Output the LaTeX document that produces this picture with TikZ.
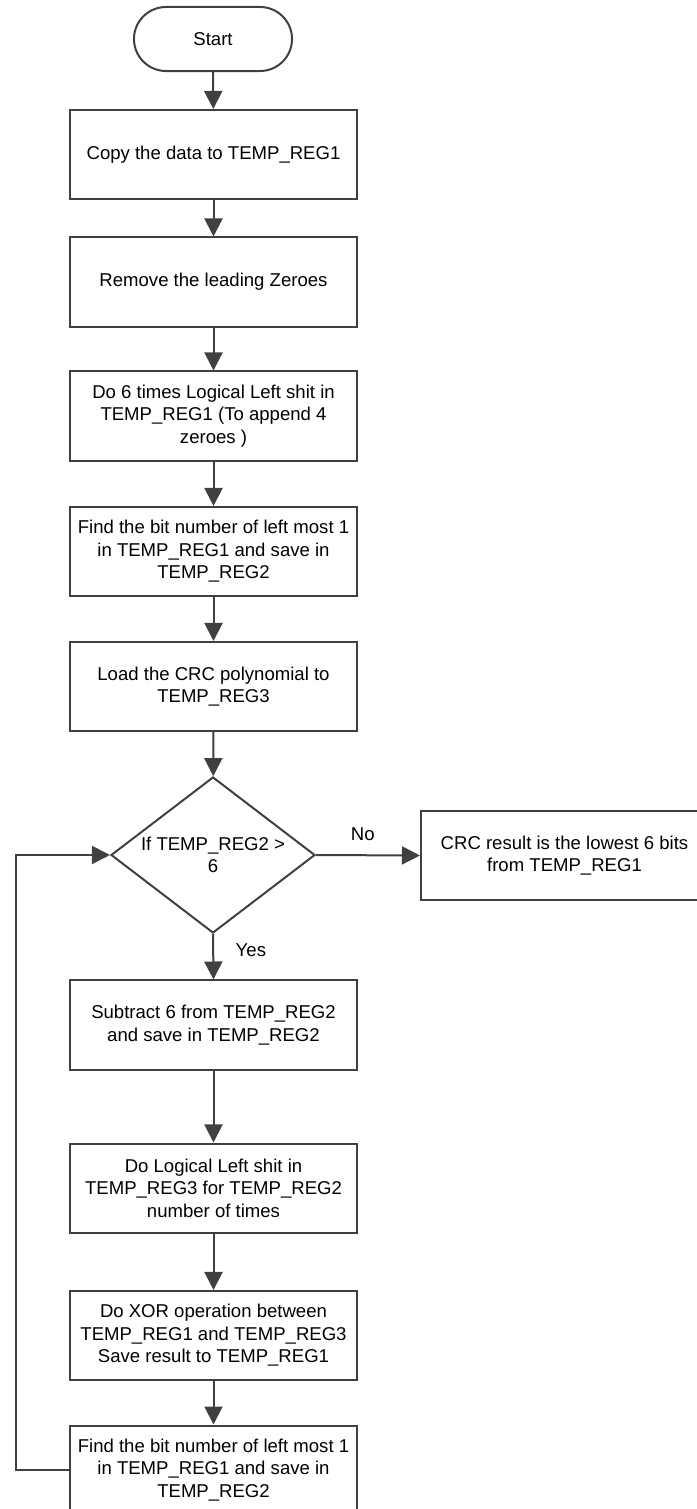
\documentclass[tikz,border=0pt]{standalone}
\usepackage{fontspec}
\setmainfont{Liberation Sans}
\usetikzlibrary{arrows.meta,shapes.geometric}
\definecolor{linegray}{HTML}{404040}
\tikzset{
    stepbox/.style={draw=linegray, line width=0.05cm, rectangle, align=center,
        minimum width=7.175cm, minimum height=2.225cm, inner sep=2pt},
    terminal/.style={draw=linegray, line width=0.05cm, rectangle, rounded corners=0.8cm,
        minimum width=3.95cm, minimum height=1.6cm},
    decision/.style={draw=linegray, line width=0.05cm, diamond, aspect=1.31, align=center,
        inner sep=0pt, minimum width=5.1cm, minimum height=3.9cm},
    flow/.style={draw=linegray, line width=0.05cm, -{Triangle[length=0.45cm,width=0.45cm]}}
}
\begin{document}
\begin{tikzpicture}[x=0.025cm, y=-0.025cm, font=\fontsize{13.2}{16}\selectfont]
                \useasboundingbox (0,0) rectangle (696,1509);
                \node[terminal] (start) at (213,39) {Start};
                \node[stepbox] (copy) at (213.5,154.5) {Copy the data to TEMP\_REG1};
                \node[stepbox] (strip) at (213.5,282) {Remove the leading Zeroes};
                \node[stepbox] (shift) at (213.5,416) {Do 6 times Logical Left shit in\\ TEMP\_REG1 (To append 4\\ zeroes )};
                \node[stepbox] (find) at (213.5,551.5) {Find the bit number of left most 1\\ in TEMP\_REG1 and save in\\ TEMP\_REG2};
                \node[stepbox] (load) at (213.5,686.5) {Load the CRC polynomial to\\ TEMP\_REG3};
                \node[decision] (check) at (213,855) {If TEMP\_REG2 >\\ 6};
                \node[stepbox] (result) at (564.5,855.5) {CRC result is the lowest 6 bits\\ from TEMP\_REG1};
                \node[stepbox] (sub) at (213.5,1025) {Subtract 6 from TEMP\_REG2\\ and save in TEMP\_REG2};
                \node[stepbox] (shiftpoly) at (213.5,1188) {Do Logical Left shit in\\ TEMP\_REG3 for TEMP\_REG2\\ number of times};
                \node[stepbox] (xor) at (213.5,1335.5) {Do XOR operation between\\ TEMP\_REG1 and TEMP\_REG3\\ Save result to TEMP\_REG1};
                \node[stepbox] (refind) at (213.5,1470) {Find the bit number of left most 1\\ in TEMP\_REG1 and save in\\ TEMP\_REG2};
                \coordinate (loop) at (16,1470);

                \draw[flow] (start) -- (copy);
                \draw[flow] (copy) -- (strip);
                \draw[flow] (strip) -- (shift);
                \draw[flow] (shift) -- (find);
                \draw[flow] (find) -- (load);
                \draw[flow] (load) -- (check);
                \draw[flow] (check.east) -- (result.west) node[pos=0.45, above=6pt] {No};
                \draw[flow] (check.south) -- (sub.north) node[pos=0.35, right=12pt] {Yes};
                \draw[flow] (sub) -- (shiftpoly);
                \draw[flow] (shiftpoly) -- (xor);
                \draw[flow] (xor) -- (refind);
                % back to the test
                \draw[flow] (refind.west) -- (loop) |- (check.west);
            \end{tikzpicture}
\end{document}
